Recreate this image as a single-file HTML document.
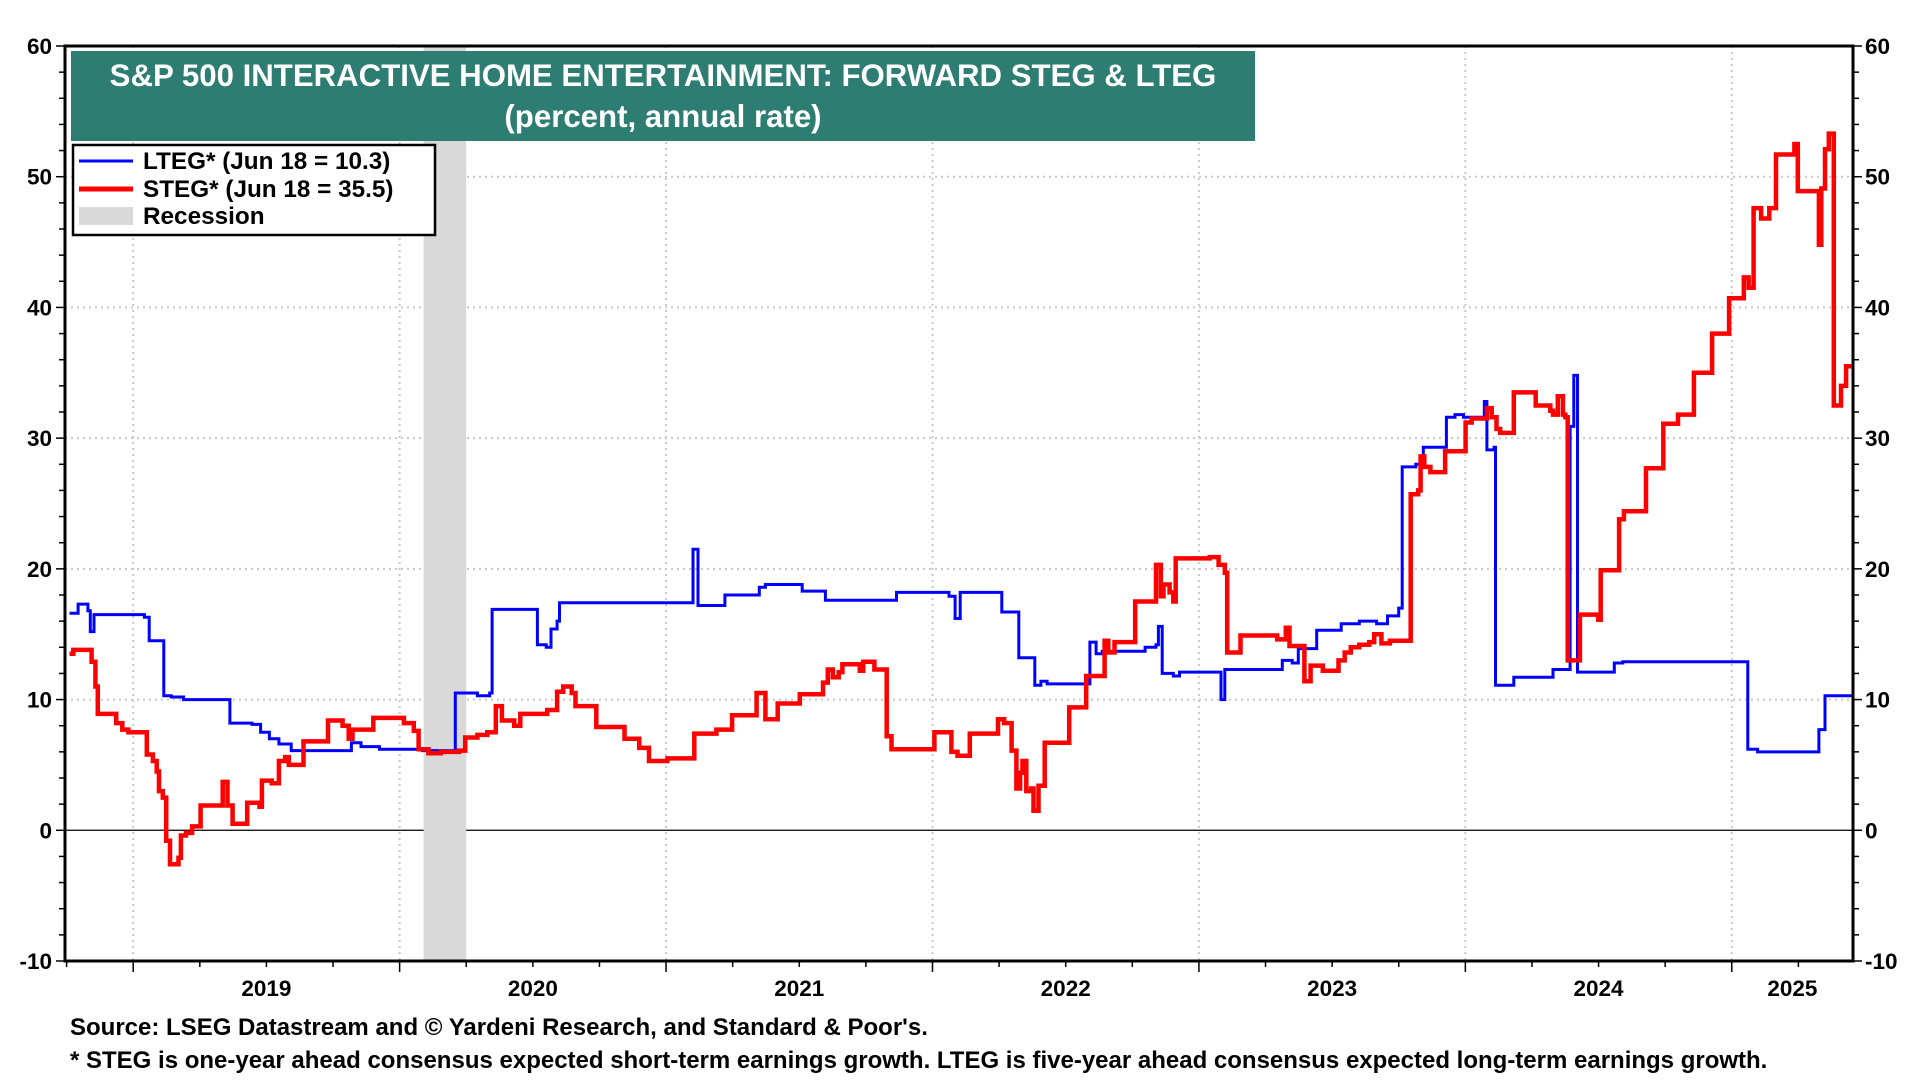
<!DOCTYPE html>
<html><head><meta charset="utf-8"><style>
html,body{margin:0;padding:0;background:#fff;}
svg{display:block;font-family:"Liberation Sans",Arial,sans-serif;font-weight:bold;}
</style></head><body>
<svg id="chart" width="1920" height="1080" viewBox="0 0 1920 1080" xmlns="http://www.w3.org/2000/svg">
<g id="grid"></g>
<rect id="rec" fill="#d9d9d9"/>
<g id="series"></g>
<g id="axes"></g>
<rect x="71" y="51" width="1184" height="90" fill="#2e7d72"/>
<text x="663" y="86" text-anchor="middle" fill="#fff" font-size="31.2">S&amp;P 500 INTERACTIVE HOME ENTERTAINMENT: FORWARD STEG &amp; LTEG</text>
<text x="663" y="127" text-anchor="middle" fill="#fff" font-size="31.2">(percent, annual rate)</text>
<g>
<rect x="73" y="145" width="362" height="90" fill="#fff" stroke="#000" stroke-width="2.5"/>
<line x1="79" y1="161" x2="133" y2="161" stroke="#0000ff" stroke-width="3"/>
<text x="143" y="169" font-size="24.3">LTEG* (Jun 18 = 10.3)</text>
<line x1="79" y1="189" x2="133" y2="189" stroke="#ff0000" stroke-width="5"/>
<text x="143" y="197" font-size="24.3">STEG* (Jun 18 = 35.5)</text>
<rect x="79" y="207" width="54" height="18" fill="#d9d9d9"/>
<text x="143" y="224" font-size="24.3">Recession</text>
</g>
<text x="70" y="1035" font-size="24">Source: LSEG Datastream and © Yardeni Research, and Standard &amp; Poor's.</text>
<text x="70" y="1068" font-size="24">* STEG is one-year ahead consensus expected short-term earnings growth. LTEG is five-year ahead consensus expected long-term earnings growth.</text>
</svg>
<script>
const yTicks=[60,50,40,30,20,10,0,-10];
const yearLabels=[2019,2020,2021,2022,2023,2024,2025];
const recession=[2020.09,2020.25];
const ltegDates=[2018.761,2018.793,2018.830,2018.839,2018.853,2019.042,2019.060,2019.115,2019.143,2019.189,2019.363,2019.446,2019.478,2019.511,2019.547,2019.593,2019.819,2019.855,2019.924,2020.085,2020.209,2020.292,2020.338,2020.347,2020.517,2020.550,2020.568,2020.591,2020.600,2021.101,2021.120,2021.221,2021.350,2021.373,2021.511,2021.598,2021.865,2022.062,2022.085,2022.104,2022.260,2022.324,2022.384,2022.407,2022.430,2022.591,2022.614,2022.637,2022.798,2022.839,2022.848,2022.862,2022.904,2022.927,2023.083,2023.097,2023.313,2023.350,2023.373,2023.442,2023.534,2023.602,2023.667,2023.708,2023.750,2023.763,2023.814,2023.842,2023.929,2023.961,2023.993,2024.071,2024.081,2024.108,2024.113,2024.182,2024.329,2024.393,2024.407,2024.421,2024.559,2024.591,2025.060,2025.097,2025.327,2025.350,2025.455];
const ltegValues=[16.6,17.3,16.8,15.2,16.5,16.3,14.5,10.3,10.2,10.0,8.2,8.1,7.5,7.0,6.6,6.1,6.7,6.4,6.2,6.1,10.5,10.3,10.5,16.9,14.2,14.0,15.4,16.0,17.4,21.5,17.2,18.0,18.6,18.8,18.3,17.6,18.2,17.9,16.2,18.2,16.7,13.2,11.1,11.4,11.2,14.4,13.5,13.7,14.0,14.2,15.6,12.0,11.8,12.1,10.0,12.3,13.0,12.8,13.9,15.3,15.8,16.0,15.8,16.4,17.0,27.8,28.0,29.3,31.6,31.8,31.6,32.8,29.1,29.3,11.1,11.7,12.3,30.9,34.8,12.1,12.8,12.9,6.2,6.0,7.7,10.3,10.3];
const stegDates=[2018.761,2018.775,2018.844,2018.858,2018.867,2018.936,2018.959,2018.982,2019.051,2019.074,2019.088,2019.097,2019.111,2019.124,2019.138,2019.170,2019.179,2019.198,2019.221,2019.253,2019.336,2019.354,2019.373,2019.428,2019.474,2019.483,2019.520,2019.547,2019.570,2019.584,2019.639,2019.731,2019.786,2019.809,2019.823,2019.901,2020.016,2020.053,2020.071,2020.108,2020.154,2020.223,2020.246,2020.292,2020.329,2020.361,2020.384,2020.430,2020.453,2020.554,2020.591,2020.614,2020.646,2020.660,2020.738,2020.844,2020.899,2020.936,2021.005,2021.106,2021.189,2021.248,2021.340,2021.373,2021.419,2021.502,2021.589,2021.607,2021.626,2021.648,2021.662,2021.727,2021.740,2021.782,2021.828,2021.846,2022.007,2022.071,2022.094,2022.140,2022.246,2022.269,2022.297,2022.315,2022.329,2022.338,2022.352,2022.370,2022.379,2022.398,2022.421,2022.513,2022.577,2022.646,2022.660,2022.683,2022.761,2022.839,2022.857,2022.867,2022.890,2022.904,2022.913,2023.041,2023.074,2023.097,2023.106,2023.156,2023.294,2023.326,2023.340,2023.396,2023.419,2023.465,2023.524,2023.547,2023.570,2023.602,2023.639,2023.658,2023.685,2023.717,2023.795,2023.823,2023.832,2023.846,2023.869,2023.924,2024.001,2024.024,2024.081,2024.099,2024.117,2024.131,2024.182,2024.264,2024.319,2024.329,2024.347,2024.366,2024.375,2024.384,2024.430,2024.499,2024.508,2024.577,2024.595,2024.678,2024.743,2024.798,2024.858,2024.926,2024.990,2025.045,2025.063,2025.082,2025.110,2025.141,2025.166,2025.235,2025.248,2025.327,2025.336,2025.350,2025.364,2025.383,2025.410,2025.429,2025.455];
const stegValues=[13.5,13.8,12.9,11.0,8.9,8.2,7.7,7.5,5.8,5.3,4.5,3.0,2.5,-0.8,-2.6,-2.1,-0.4,-0.2,0.3,1.9,3.7,1.9,0.5,2.1,1.8,3.8,3.6,5.3,5.6,5.0,6.8,8.4,8.0,7.0,7.7,8.6,8.2,7.6,6.2,5.9,6.0,6.1,7.1,7.3,7.5,9.5,8.4,8.0,8.9,9.2,10.6,11.0,10.5,9.5,7.9,7.0,6.3,5.3,5.5,7.4,7.7,8.8,10.5,8.5,9.7,10.4,11.3,12.3,11.7,12.1,12.7,12.2,12.9,12.3,7.2,6.2,7.5,6.0,5.7,7.4,8.5,8.2,6.1,3.2,4.4,5.3,3.0,3.2,1.5,3.4,6.7,9.4,11.8,14.5,13.6,14.4,17.5,20.3,17.9,18.8,18.2,17.5,20.8,20.9,20.3,19.7,13.6,14.9,14.6,15.5,14.1,11.4,12.6,12.2,13.0,13.6,14.0,14.2,14.4,15.0,14.3,14.5,25.7,26.0,28.6,27.8,27.4,29.0,31.2,31.5,32.3,31.6,30.7,30.4,33.5,32.5,32.1,31.8,33.2,31.8,31.6,13.0,16.5,16.1,19.9,23.8,24.4,27.7,31.1,31.8,35.0,38.0,40.7,42.3,41.5,47.6,46.8,47.6,51.7,52.5,48.9,44.8,49.1,52.1,53.3,32.5,34.0,35.5,35.5];

const L=65,R=1853,T=46,B=961;
const yMin=-10,yMax=60,x0=2018.744,x1=2025.455;
function xs(t){return L+(t-x0)/(x1-x0)*(R-L);}
function ys(v){return T+(yMax-v)/(yMax-yMin)*(B-T);}
const NS="http://www.w3.org/2000/svg";
function mk(tag,parent,attrs){const e=document.createElementNS(NS,tag);for(const k in attrs)e.setAttribute(k,attrs[k]);parent.appendChild(e);return e;}
const grid=document.getElementById('grid'),axes=document.getElementById('axes'),series=document.getElementById('series');
yTicks.forEach(v=>{
  if(v===yMin||v===yMax)return;
  const l=mk('line',grid,{x1:L,x2:R,y1:ys(v),y2:ys(v),stroke:v===0?'#000':'#c8c8c8','stroke-width':v===0?1.3:2,'stroke-dasharray':v===0?'none':'2,4'});
  
  
});
for(let y=2019;y<=2025;y++){
  const l=mk('line',grid,{x1:xs(y),x2:xs(y),y1:T,y2:B,stroke:'#c8c8c8','stroke-width':2,'stroke-dasharray':'2,4'});
  
  
}
const rec=document.getElementById('rec');
rec.setAttribute('x',xs(recession[0]));rec.setAttribute('width',xs(recession[1])-xs(recession[0]));rec.setAttribute('y',T);rec.setAttribute('height',B-T);
function stepPath(d,v){let p='M'+xs(d[0]).toFixed(1)+','+ys(v[0]).toFixed(1);
  for(let i=1;i<d.length;i++){p+='H'+xs(d[i]).toFixed(1)+'V'+ys(v[i]).toFixed(1);}return p;}
const lteg=mk('path',series,{d:stepPath(ltegDates,ltegValues),fill:'none',stroke:'#0000ff','stroke-width':3});


const steg=mk('path',series,{d:stepPath(stegDates,stegValues),fill:'none',stroke:'#ff0000','stroke-width':4.5});


const fr=mk('rect',axes,{x:L,y:T,width:R-L,height:B-T,fill:'none',stroke:'#000','stroke-width':3});


for(let v=yMin;v<=yMax;v+=2){
  const major=v%10===0,len=major?9:6;
  mk('line',axes,{x1:L-len,x2:L,y1:ys(v),y2:ys(v),stroke:'#000','stroke-width':1.5});
  mk('line',axes,{x1:R,x2:R+len,y1:ys(v),y2:ys(v),stroke:'#000','stroke-width':1.5});
}
yTicks.forEach(v=>{
  const a=mk('text',axes,{x:L-13,y:ys(v)+8,'text-anchor':'end','font-size':22.5});a.textContent=v;
  
  
  const b=mk('text',axes,{x:R+12,y:ys(v)+8,'text-anchor':'start','font-size':22.5});b.textContent=v;
  
  
});
for(let q=2018.75;q<=x1;q+=0.25){
  const major=Math.abs(q-Math.round(q))<0.01;
  if(xs(q)<L-1)continue;
  mk('line',axes,{x1:xs(q),x2:xs(q),y1:B,y2:B+(major?11:6),stroke:'#000','stroke-width':1.5});
}
yearLabels.forEach(y=>{
  const cx=(xs(y)+Math.min(xs(y+1),R))/2;
  const t=mk('text',axes,{x:cx,y:996,'text-anchor':'middle','font-size':22.5});t.textContent=y;
  
  
});
</script>
</body></html>
